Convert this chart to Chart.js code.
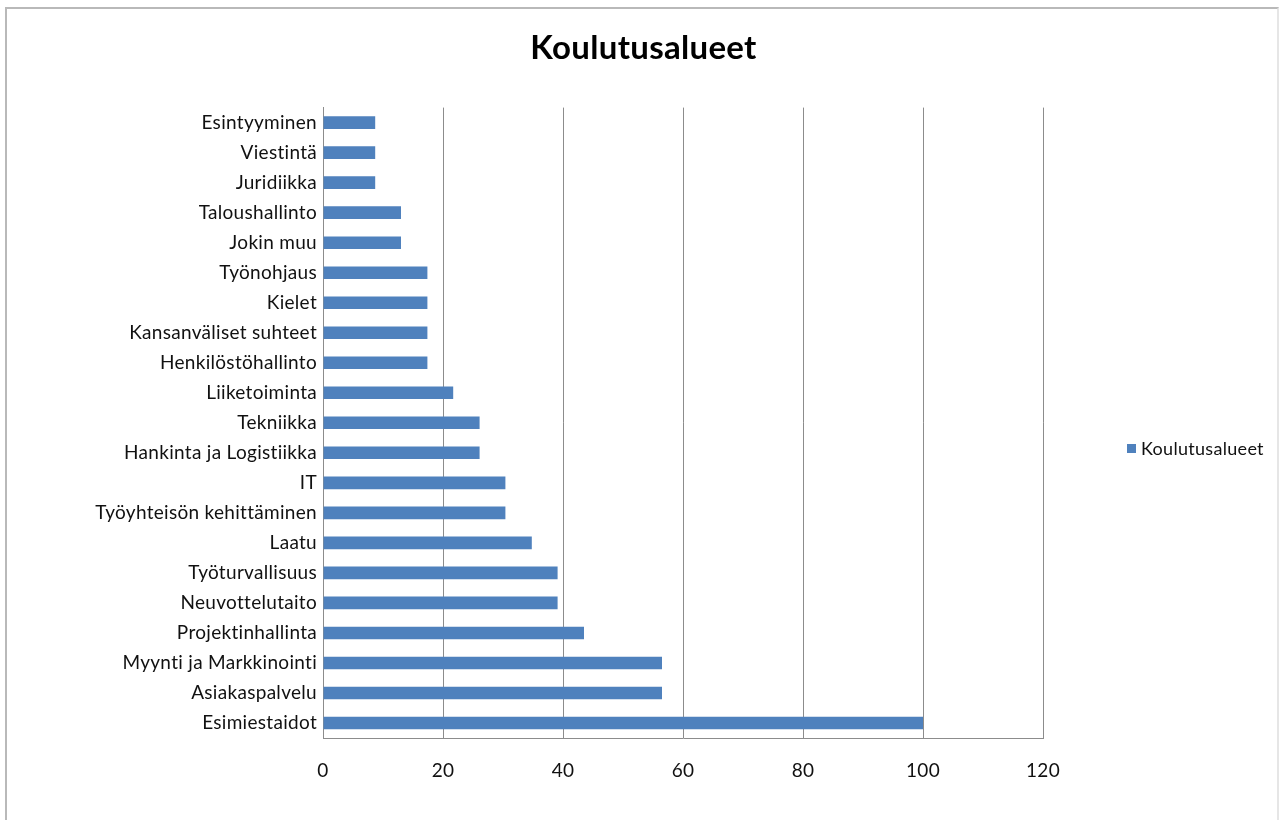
<!DOCTYPE html>
<html>
<head>
<meta charset="utf-8">
<title>Koulutusalueet</title>
<script src="https://cdn.jsdelivr.net/npm/chart.js@4.4.1/dist/chart.umd.min.js"></script>
<style>
  html, body { margin: 0; padding: 0; background: #fff; overflow: hidden; }
  body { width: 1279px; height: 820px; position: relative; font-family: Lato, "Open Sans", sans-serif; }
  .frame {
    position: absolute; left: 5px; top: 7px; width: 1270px; height: 900px;
    border: 2px solid #b9b9b9; border-right-color: #e6e6e6;
  }
  .chart-box { position: absolute; left: 0; top: 0; width: 1279px; height: 820px; }
  .legend {
    position: absolute; left: 1127px; top: 437px; font-size: 18px; color: #111;
    display: flex; align-items: center; white-space: nowrap; letter-spacing: 0.3px;
  }
  .legend .swatch { width: 9px; height: 9px; background: #4f81bd; margin-right: 5px; }
</style>
</head>
<body>
<div class="frame"></div>
<div class="chart-box"><canvas id="koulutusChart"></canvas></div>
<div class="legend"><span class="swatch"></span><span>Koulutusalueet</span></div>

<script>
// data (top to bottom)
const categories = [
  'Esintyyminen', 'Viestintä', 'Juridiikka', 'Taloushallinto', 'Jokin muu',
  'Työnohjaus', 'Kielet', 'Kansanväliset suhteet', 'Henkilöstöhallinto',
  'Liiketoiminta', 'Tekniikka', 'Hankinta ja Logistiikka', 'IT',
  'Työyhteisön kehittäminen', 'Laatu', 'Työturvallisuus', 'Neuvottelutaito',
  'Projektinhallinta', 'Myynti ja Markkinointi', 'Asiakaspalvelu', 'Esimiestaidot'
];
const koulutusValues = [
  8.7, 8.7, 8.7, 13.0, 13.0,
  17.4, 17.4, 17.4, 17.4,
  21.7, 26.1, 26.1, 30.4,
  30.4, 34.8, 39.1, 39.1,
  43.5, 56.5, 56.5, 100
];
const valueTicks = [0, 20, 40, 60, 80, 100, 120];

document.addEventListener('DOMContentLoaded', () => {
  const canvas = document.getElementById('koulutusChart');
  const gridGrey = '#8c8c8c';

  // small letter spacing keeps Lato from drawing the "ti" ligature
  const spacingPlugin = {
    id: 'spacing',
    beforeDraw: (chart) => { chart.ctx.letterSpacing = '0.3px'; }
  };

  new Chart(canvas, {
    type: 'bar',
    data: {
      labels: categories,
      datasets: [{
        label: 'Koulutusalueet',
        data: koulutusValues,
        backgroundColor: '#4f81bd',
        borderWidth: 0,
        barPercentage: 0.42,
        categoryPercentage: 1
      }]
    },
    plugins: [spacingPlugin],
    options: {
      indexAxis: 'y',
      responsive: true,
      maintainAspectRatio: false,
      animation: false,
      layout: { padding: { left: 8, right: 0, top: 0, bottom: 0 } },
      plugins: {
        legend: { display: false },
        tooltip: { enabled: false },
        title: {
          display: true,
          text: 'Koulutusalueet',
          color: '#000',
          font: { family: 'Lato', size: 33, weight: 'bold' },
          padding: { top: 29, bottom: 39 }
        }
      },
      scales: {
        x: {
          min: 0,
          max: 120,
          afterBuildTicks: (scale) => {
            scale.ticks = valueTicks.map(v => ({ value: v }));
          },
          afterFit: (scale) => { scale.height = 82; },
          grid: { color: gridGrey, lineWidth: 1, drawTicks: false },
          border: { display: true, color: gridGrey, width: 1 },
          ticks: {
            color: '#111',
            font: { family: 'Lato', size: 19 },
            padding: 21,
            maxRotation: 0
          }
        },
        y: {
          afterFit: (scale) => { scale.width = 315; },
          grid: { display: false, drawTicks: false },
          border: { display: true, color: gridGrey, width: 1 },
          ticks: {
            color: '#111',
            font: { family: 'Lato', size: 19 },
            padding: 6,
            autoSkip: false
          }
        },
        // empty right-hand box that leaves room for the legend
        legendSpace: {
          type: 'linear',
          position: 'right',
          axis: 'y',
          afterFit: (scale) => { scale.width = 236; },
          grid: { display: false, drawTicks: false },
          border: { display: false },
          ticks: { display: false }
        }
      }
    }
  });
});
</script>
</body>
</html>
